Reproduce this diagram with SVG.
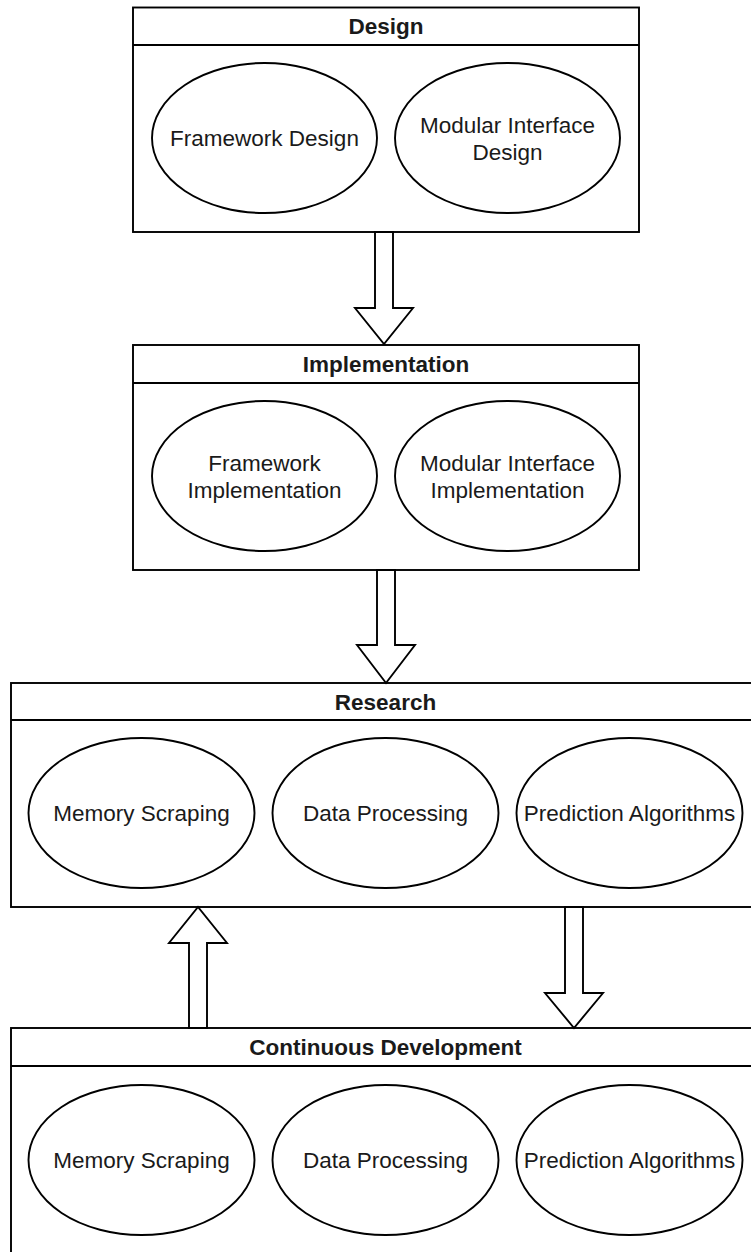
<svg xmlns="http://www.w3.org/2000/svg" width="751" height="1252" viewBox="0 0 751 1252">
<style>
.box{fill:#fff;stroke:#000;stroke-width:1.9}
.el{fill:#fff;stroke:#000;stroke-width:1.9}
.arr{fill:#fff;stroke:#000;stroke-width:1.9;stroke-linejoin:miter}
.hd{font-family:"Liberation Sans",Arial,sans-serif;font-size:22.5px;font-weight:bold;fill:#1a1a1a;text-anchor:middle}
.tx{font-family:"Liberation Sans",Arial,sans-serif;font-size:22.5px;fill:#1a1a1a;text-anchor:middle}
</style>
<rect width="751" height="1252" fill="#fff"/>
<g id="design">
<rect class="box" x="133" y="7.5" width="506" height="224.5"/>
<line class="box" x1="133" y1="45" x2="639" y2="45"/>
<text class="hd" x="386" y="34">Design</text>
<g id="framework-design"><ellipse class="el" cx="264.5" cy="138" rx="112.5" ry="75"/><text class="tx" x="264.5" y="146">Framework Design</text></g>
<g id="modular-interface-design"><ellipse class="el" cx="507.5" cy="138" rx="112.5" ry="75"/><text class="tx" x="507.5" y="132.5">Modular Interface</text><text class="tx" x="507.5" y="159.5">Design</text></g>
</g>
<g id="implementation">
<rect class="box" x="133" y="345" width="506" height="225"/>
<line class="box" x1="133" y1="383" x2="639" y2="383"/>
<text class="hd" x="386" y="372">Implementation</text>
<g id="framework-implementation"><ellipse class="el" cx="264.5" cy="476" rx="112.5" ry="75"/><text class="tx" x="264.5" y="470.5">Framework</text><text class="tx" x="264.5" y="497.5">Implementation</text></g>
<g id="modular-interface-implementation"><ellipse class="el" cx="507.5" cy="476" rx="112.5" ry="75"/><text class="tx" x="507.5" y="470.5">Modular Interface</text><text class="tx" x="507.5" y="497.5">Implementation</text></g>
</g>
<g id="research">
<rect class="box" x="11" y="683" width="749" height="224"/>
<line class="box" x1="11" y1="720" x2="760" y2="720"/>
<text class="hd" x="385.5" y="709.5">Research</text>
<g id="r-memory-scraping"><ellipse class="el" cx="141.5" cy="813" rx="113" ry="75"/><text class="tx" x="141.5" y="821">Memory Scraping</text></g>
<g id="r-data-processing"><ellipse class="el" cx="385.5" cy="813" rx="113" ry="75"/><text class="tx" x="385.5" y="821">Data Processing</text></g>
<g id="r-prediction-algorithms"><ellipse class="el" cx="629.5" cy="813" rx="113" ry="75"/><text class="tx" x="629.5" y="821">Prediction Algorithms</text></g>
</g>
<g id="continuous-development">
<rect class="box" x="11" y="1028" width="749" height="226"/>
<line class="box" x1="11" y1="1066" x2="760" y2="1066"/>
<text class="hd" x="385.5" y="1055">Continuous Development</text>
<g id="c-memory-scraping"><ellipse class="el" cx="141.5" cy="1160" rx="113" ry="75"/><text class="tx" x="141.5" y="1168">Memory Scraping</text></g>
<g id="c-data-processing"><ellipse class="el" cx="385.5" cy="1160" rx="113" ry="75"/><text class="tx" x="385.5" y="1168">Data Processing</text></g>
<g id="c-prediction-algorithms"><ellipse class="el" cx="629.5" cy="1160" rx="113" ry="75"/><text class="tx" x="629.5" y="1168">Prediction Algorithms</text></g>
</g>
<g id="connectors">
<polygon class="arr" points="375,232 393,232 393,308 413,308 384,344 355,308 375,308"/>
<polygon class="arr" points="377,570 395,570 395,645 415,645 386,683 357,645 377,645"/>
<polygon class="arr" points="189,1028 207,1028 207,943 227,943 198,907 169,943 189,943"/>
<polygon class="arr" points="565,907 583,907 583,993 603,993 574,1028 545,993 565,993"/>
</g>
</svg>
